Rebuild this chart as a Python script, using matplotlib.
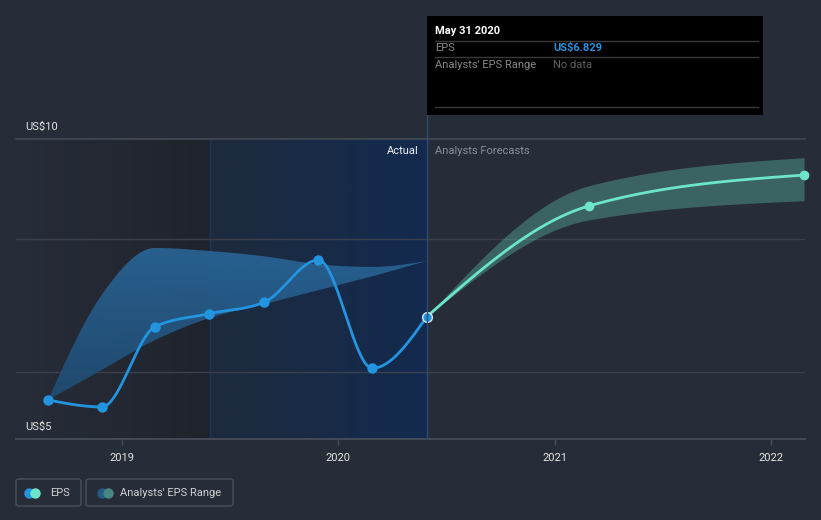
import numpy as np
import matplotlib
matplotlib.use("Agg")
import matplotlib.pyplot as plt
from matplotlib.patches import FancyBboxPatch, Rectangle, Circle, Polygon
from matplotlib.colors import LinearSegmentedColormap
from matplotlib.lines import Line2D

plt.rcParams['font.family'] = ['Roboto', 'DejaVu Sans']

# ---------------- data ----------------
eps_x = [2018.661, 2018.909, 2019.155, 2019.405, 2019.658, 2019.909, 2020.158, 2020.409]
eps_y = [5.579, 5.474, 6.681, 6.877, 7.048, 7.684, 6.056, 6.829]
past_hi = [5.579, 7.16, 7.865, 7.82, 7.74, 7.62, 7.58, 7.67]
past_lo = [5.579, 6.03, 6.48, 6.81, 7.02, 7.23, 7.44, 7.67]

fc_x = [2020.409, 2021.157, 2022.151]
fc_y = [6.829, 8.496, 8.962]
fc_hi = [6.829, 8.80, 9.223]
fc_lo = [6.829, 8.286, 8.576]

year_ticks = [2019, 2020, 2021, 2022]
year_labels = ['2019', '2020', '2021', '2022']
y_labels = ['US$10', 'US$5']
grid_vals = [6.0, 8.0]

BG = '#262c38'
EPS_C = '#2394df'
FC_C = '#6ce5c8'

W, H = 821, 520


def monotone(x, y, n=40):
    x = np.asarray(x, float); y = np.asarray(y, float)
    h = np.diff(x); d = np.diff(y) / h
    m = np.zeros_like(y)
    m[0] = d[0]; m[-1] = d[-1]
    for i in range(1, len(y) - 1):
        if d[i - 1] * d[i] <= 0:
            m[i] = 0
        else:
            p = (d[i - 1] * h[i] + d[i] * h[i - 1]) / (h[i - 1] + h[i])
            m[i] = np.sign(d[i]) * min(abs(p), 2 * abs(d[i - 1]), 2 * abs(d[i])) if False else \
                np.sign(d[i]) * min(2 * min(abs(d[i - 1]), abs(d[i])), abs(p))
    # endpoints (d3 style)
    if len(y) > 2:
        m[0] = (3 * d[0] - m[1]) / 2 if len(y) > 1 else d[0]
        m[-1] = (3 * d[-1] - m[-2]) / 2
    xs, ys = [], []
    for i in range(len(h)):
        t = np.linspace(0, 1, n)
        h00 = 2 * t**3 - 3 * t**2 + 1
        h10 = t**3 - 2 * t**2 + t
        h01 = -2 * t**3 + 3 * t**2
        h11 = t**3 - t**2
        seg = h00 * y[i] + h10 * h[i] * m[i] + h01 * y[i + 1] + h11 * h[i] * m[i + 1]
        xs.append(x[i] + t * h[i]); ys.append(seg)
    return np.concatenate(xs), np.concatenate(ys)


fig = plt.figure(figsize=(W / 100, H / 100), dpi=100)
fig.patch.set_facecolor(BG)

def fx(px):
    return px / W

def fy(py):
    return 1 - py / H

ax_l, ax_r, ax_t, ax_b = 16, 805, 139, 439
ax = fig.add_axes([fx(ax_l), fy(ax_b), (ax_r - ax_l) / W, (ax_b - ax_t) / H])
ax.set_facecolor(BG)
px_per_year = 216.6
x0 = 2019 + (ax_l - 121.5) / px_per_year
x1 = 2019 + (ax_r - 121.5) / px_per_year
ylo, yhi = 4.992, 9.504
ax.set_xlim(x0, x1)
ax.set_ylim(ylo, yhi)
for s in ax.spines.values():
    s.set_visible(False)

# background shading
split = 2019 + (210 - 121.5) / px_per_year
now = eps_x[-1]
g1 = LinearSegmentedColormap.from_list('g1', ['#272d39', '#1f232c'])
ax.imshow(np.linspace(0, 1, 256)[None, :], cmap=g1, aspect='auto',
          extent=[x0, split, ylo, yhi], zorder=0)
g2 = LinearSegmentedColormap.from_list('g2', ['#1e2a3d', '#132a4f'])
ax.imshow(np.linspace(0, 1, 256)[None, :], cmap=g2, aspect='auto',
          extent=[split, now, ylo, yhi], zorder=0)
ax.axvline(split, color='#1d3658', lw=1, zorder=1)

# gridlines
for g in grid_vals:
    ax.axhline(g, color='#3a404c', lw=1, zorder=1)
ax.axhline(yhi, color='#444a55', lw=1.2, zorder=1, clip_on=False)
ax.axhline(ylo, color='#4a505b', lw=1.2, zorder=1, clip_on=False)

# past analysts range with vertical gradient
ux, uy = monotone(eps_x, past_hi)
lx, ly = monotone(eps_x, past_lo)
poly_xy = np.vstack([np.column_stack([ux, uy]), np.column_stack([lx[::-1], ly[::-1]])])
poly = Polygon(poly_xy, closed=True, facecolor='none', edgecolor='none')
ax.add_patch(poly)
g3 = LinearSegmentedColormap.from_list('g3', ['#1f4a70', '#2a679a'])
im = ax.imshow(np.linspace(0, 1, 256)[:, None], cmap=g3, aspect='auto', origin='lower',
               extent=[eps_x[0], eps_x[-1], 5.4, 7.9], zorder=2, alpha=0.9)
im.set_clip_path(poly)

# forecast range
fux, fuy = monotone(fc_x, fc_hi)
flx, fly = monotone(fc_x, fc_lo)
ax.fill_between(fux, fly, fuy, color=FC_C, alpha=0.3, lw=0, zorder=2)

# EPS lines
ex, ey = monotone(eps_x, eps_y)
ax.plot(ex, ey, color=EPS_C, lw=2.0, zorder=4, solid_capstyle='round')
ax.plot(eps_x[:-1], eps_y[:-1], 'o', color=EPS_C, ms=6.5, zorder=5)
fxx, fyy = monotone(fc_x, fc_y)
ax.plot(fxx, fyy, color=FC_C, lw=2.0, zorder=4, solid_capstyle='round')
ax.plot(fc_x[1:], fc_y[1:], 'o', color=FC_C, ms=6, zorder=5, clip_on=False)
ax.plot([eps_x[-1]], [eps_y[-1]], 'o', color=EPS_C, ms=7, mec='#d8e6f5', mew=1.0, zorder=6)

# ticks
ax.set_xticks(year_ticks)
ax.set_xticklabels(year_labels)
ax.set_yticks([])
ax.tick_params(axis='x', colors='#4a505b', length=4, width=1, pad=6,
               labelcolor='#e6e6e6', labelsize=8)

# y labels
fig.text(fx(25), fy(127), y_labels[0], color='#e6e6e6', fontsize=8, va='center', ha='left')
fig.text(fx(25), fy(427), y_labels[1], color='#e6e6e6', fontsize=8, va='center', ha='left')

fig.text(fx(419), fy(151), 'Actual', color='#f2f2f2', fontsize=8, va='center', ha='right')
fig.text(fx(435), fy(151), 'Analysts Forecasts', color='#8a8f98', fontsize=8, va='center', ha='left')

# vertical now line spanning to tooltip
fig.add_artist(Line2D([fx(427), fx(427)], [fy(115), fy(439)], color='#2d4c72', lw=1, zorder=3))

# tooltip
fig.add_artist(Rectangle((fx(427), fy(115)), (763 - 427) / W, (115 - 16) / H,
                         facecolor='black', edgecolor='none', zorder=5))
fig.text(fx(435), fy(31), 'May 31 2020', color='white', fontsize=8, fontweight='bold',
         va='center', ha='left', zorder=6)
for yy in [40.7, 57.3, 106.7]:
    fig.add_artist(Line2D([fx(435), fx(758)], [fy(yy), fy(yy)], color='#3a3a3a', lw=1, zorder=6))
fig.text(fx(435), fy(48), 'EPS', color='#8a8a8a', fontsize=8, va='center', ha='left', zorder=6)
fig.text(fx(553), fy(48), 'US$6.829', color=EPS_C, fontsize=8, fontweight='bold',
         va='center', ha='left', zorder=6)
fig.text(fx(435), fy(65), "Analysts' EPS Range", color='#8a8a8a', fontsize=8, va='center', ha='left', zorder=6)
fig.text(fx(553), fy(65), 'No data', color='#5f5f5f', fontsize=8, va='center', ha='left', zorder=6)

# legend
def legbox(xl, xr):
    fig.add_artist(FancyBboxPatch((fx(xl), fy(506)), (xr - xl) / W, (506 - 479) / H,
                                  boxstyle='round,pad=0,rounding_size=0.004',
                                  facecolor='none', edgecolor='#4a505b', lw=1))

legbox(16, 81)
legbox(86, 233)
fig.add_artist(Line2D([fx(29)], [fy(492.5)], marker='o', ms=7.5, color=EPS_C, mew=0))
fig.add_artist(Line2D([fx(35)], [fy(492.5)], marker='o', ms=7.5, color=FC_C, mew=0))
fig.text(fx(50), fy(492.5), 'EPS', color='#d0d0d0', fontsize=8, va='center', ha='left')
fig.add_artist(Line2D([fx(102)], [fy(492.5)], marker='o', ms=7.5, color='#245a85', mew=0))
fig.add_artist(Line2D([fx(108)], [fy(492.5)], marker='o', ms=7.5, color='#468784', mew=0))
fig.text(fx(120), fy(492.5), "Analysts' EPS Range", color='#d0d0d0', fontsize=8, va='center', ha='left')

fig.savefig('out.png', dpi=100, facecolor=BG)
